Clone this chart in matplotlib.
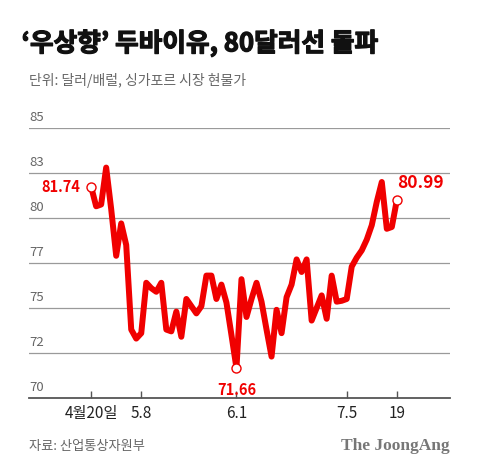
import matplotlib
matplotlib.use('Agg')
import matplotlib.pyplot as plt
import matplotlib.patheffects as pe

# 기본 스타일
plt.rcParams['font.family'] = ['Noto Sans CJK KR', 'DejaVu Sans']

RED = '#f00000'
GRID = '#9a9a9a'

# 데이터 (달러/배럴, 거래일 기준)
prices = [81.74, 80.65, 80.75, 82.8, 80.5, 77.9, 79.7, 78.5, 73.8, 73.3,
          73.6, 76.4, 76.1, 75.9, 76.4, 73.8, 73.7, 74.8, 73.4, 75.5,
          75.1, 74.7, 75.1, 76.8, 76.8, 75.5, 76.3, 75.3, 73.5, 71.66,
          76.6, 74.5, 75.5, 76.4, 75.35, 73.8, 72.3, 74.9, 73.6, 75.6,
          76.3, 77.7, 77.0, 77.7, 74.3, 75.0, 75.7, 74.4, 76.8, 75.35,
          75.4, 75.5, 77.3, 77.8, 78.2, 78.8, 79.6, 80.9, 82.0, 79.4,
          79.5, 80.99]
tick_idx = [0, 10, 29, 51, 61]
tick_labels = ['4월20일', '5.8', '6.1', '7.5', '19']
y_ticks = [70, 72.5, 75, 77.5, 80, 82.5, 85]
y_labels = ['70', '72', '75', '77', '80', '83', '85']

x = list(range(len(prices)))
i_min = prices.index(min(prices))

fig = plt.figure(figsize=(4.8, 4.73), dpi=100)
ax = fig.add_axes([0.0604, 0.1586, 0.877, 0.5708])

for yt, lab in zip(y_ticks, y_labels):
    if yt > y_ticks[0]:
        ax.axhline(yt, color=GRID, lw=0.9, zorder=1)
    ax.text(0.0, yt + 0.2, lab, transform=ax.get_yaxis_transform(),
            ha='left', va='bottom', fontsize=9.5, color='#666666')

ax.plot(x, prices, color=RED, lw=4.3, solid_joinstyle='round',
        solid_capstyle='round', zorder=3)
for i in (0, i_min, len(prices) - 1):
    ax.plot(x[i], prices[i], 'o', ms=6.5, mfc='white', mec=RED, mew=1.0, zorder=4)

ax.annotate(f'{prices[0]:.2f}', (x[0], prices[0]), xytext=(-8, 0),
            textcoords='offset points', ha='right', va='center',
            fontsize=10.5, fontweight='bold', color=RED)
ax.annotate(f'{prices[i_min]:.2f}', (x[i_min], prices[i_min]), xytext=(0, -10),
            textcoords='offset points', ha='center', va='top',
            fontsize=10.5, fontweight='bold', color=RED)
ax.annotate(f'{prices[-1]:.2f}', (x[-1], prices[-1]), xytext=(0, 6),
            textcoords='offset points', ha='left', va='bottom',
            fontsize=12.5, fontweight='bold', color=RED)

ax.set_xlim(-12.4, 71.6)
ax.set_ylim(70, 85)
ax.set_yticks([])
ax.set_xticks(tick_idx)
ax.set_xticklabels(tick_labels, fontsize=11, color='#222222')
ax.tick_params(axis='x', direction='in', length=5, width=1, color='#555555', pad=5)
for s in ('top', 'right', 'left'):
    ax.spines[s].set_visible(False)
ax.spines['bottom'].set_color('#555555')
ax.spines['bottom'].set_linewidth(1.3)

fig.text(0.045, 0.908, '‘우상향’ 두바이유, 80달러선 돌파', fontsize=18.5,
         fontweight='bold', color='#111111', va='center', ha='left',
         path_effects=[pe.withStroke(linewidth=0.9, foreground='#111111')])
fig.text(0.06, 0.829, '단위: 달러/배럴, 싱가포르 시장 현물가', fontsize=10,
         color='#666666', va='center', ha='left')
fig.text(0.06, 0.057, '자료: 산업통상자원부', fontsize=9.5,
         color='#666666', va='center', ha='left')
fig.text(0.9375, 0.057, 'The JoongAng', fontsize=12.5, fontweight='bold',
         family=['Liberation Serif', 'DejaVu Serif'], color='#777777',
         va='center', ha='right')

fig.savefig('out.png', dpi=100)
